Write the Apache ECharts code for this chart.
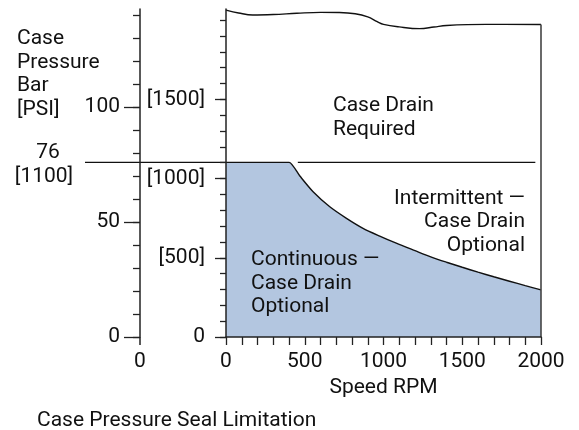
<!DOCTYPE html>
<html><head><meta charset="utf-8">
<script src="https://cdn.jsdelivr.net/npm/echarts@6/dist/echarts.min.js"></script>
<style>html,body{margin:0;padding:0;background:#fff}#c{width:579px;height:430px}</style>
</head><body><div id="c"></div>
<script>
// ---- data ----
const speedRpm = [0,392,401,469,553,659,765,870,976,1081,1200,1300,1400,1500,1600,1700,1800,1900,2000];
const limitPsi = [1102,1102,1102,1016,917,822,749,686,637,592,545,506,472,440,409,380,352,324,297];
const topRpm = [0,80,170,300,450,600,720,820,900,960,1000,1100,1229,1320,1400,1650,2000];
const topPsi = [2063,2045,2032,2035,2043,2049,2048,2040,2020,1990,1973,1957,1946,1956,1966,1973,1972];
const borderRpm = [2000,2000];
const borderPsi = [0,1972];
const intermittentRpm = [456,1964];
const intermittentPsi = [1102,1102];
const barLimit = 76;
const barLineX = [-0.64,1];
const speedMajorTicks = [0,500,1000,1500,2000];
const speedMinorTicks = [0,100,200,300,400,500,600,700,800,900,1000,1100,1200,1300,1400,1500,1600,1700,1800,1900,2000];
const psiMajorTicks = [0,500,1000,1500];
const psiMinorTicks = [0,100,200,300,400,500,600,700,800,900,1000,1100,1200,1300,1400,1500,1600,1700,1800,1900,2000];
const barMajorTicks = [0,50,100];
const barMinorTicks = [0,10,20,30,40,50,60,70,80,90,100,110,120,130,140];
const barZeroTick = [0];
const psiAxisMax = 2070;
const psiPerBar = 14.5038;

const FONT = 'Roboto, "Liberation Sans", sans-serif';
const FS = 21;
const TXT = '#111';
const AX = '#222';
const zip = (a,b) => a.map((v,i)=>[v,b[i]]);

const chart = echarts.init(document.getElementById('c'), null, {renderer:'canvas'});
const textStyle = {fontFamily: FONT, fontSize: FS, color: TXT};
const plain = v => String(v);
const F = FS + 'px ' + FONT;

chart.setOption({
  animation: false,
  textStyle: {fontFamily: FONT},
  title: {
    text: 'Case Pressure Seal Limitation', left: 37, top: 410, padding: 0,
    textStyle: {fontFamily: FONT, fontSize: FS, color: TXT, fontWeight: 'normal'}
  },
  grid: [
    {left: 226, right: 38, top: 9, bottom: 93},
    {left: 85, width: 141, top: 9, bottom: 93}
  ],
  xAxis: [
    {gridIndex: 0, type: 'value', min: 0, max: 2000, z: 5,
     name: 'Speed RPM', nameLocation: 'middle', nameGap: 38,
     nameTextStyle: textStyle,
     axisLine: {show: true, lineStyle: {color: AX, width: 1.5}},
     axisTick: {show: true, customValues: speedMinorTicks, length: 8, lineStyle: {color: AX, width: 1.3}},
     axisLabel: {customValues: speedMajorTicks, margin: 14, formatter: plain, ...textStyle},
     splitLine: {show: false}},
    {gridIndex: 1, type: 'value', min: barLineX[0], max: barLineX[1], z: 5,
     axisLine: {show: false},
     axisTick: {show: true, customValues: barZeroTick, length: 8, lineStyle: {color: AX, width: 1.5}},
     axisLabel: {customValues: barZeroTick, margin: 14, formatter: plain, ...textStyle},
     splitLine: {show: false}}
  ],
  yAxis: [
    {gridIndex: 0, type: 'value', position: 'left', min: 0, max: psiAxisMax, z: 5,
     axisLine: {show: true, onZero: false, lineStyle: {color: AX, width: 1.5}},
     axisTick: {show: true, customValues: psiMajorTicks, length: 11, lineStyle: {color: AX, width: 1.3}},
     axisLabel: {customValues: psiMajorTicks, margin: 21, formatter: v => v === 0 ? '0' : '[' + v + ']', ...textStyle},
     splitLine: {show: false}},
    {gridIndex: 0, type: 'value', position: 'left', min: 0, max: psiAxisMax, z: 5,
     axisLine: {show: false, onZero: false},
     axisTick: {show: true, customValues: psiMinorTicks, length: 6, lineStyle: {color: AX, width: 1.3}},
     axisLabel: {show: false},
     splitLine: {show: false}},
    {gridIndex: 1, type: 'value', position: 'left', offset: -55, min: 0, max: psiAxisMax / psiPerBar, z: 5,
     axisLine: {show: true, onZero: false, lineStyle: {color: AX, width: 1.5}},
     axisTick: {show: true, customValues: barMajorTicks, length: 16, lineStyle: {color: AX, width: 1.3}},
     axisLabel: {customValues: barMajorTicks, margin: 20, formatter: plain, ...textStyle},
     splitLine: {show: false}},
    {gridIndex: 1, type: 'value', position: 'left', offset: -55, min: 0, max: psiAxisMax / psiPerBar, z: 5,
     axisLine: {show: false, onZero: false},
     axisTick: {show: true, customValues: barMinorTicks, length: 7, lineStyle: {color: AX, width: 1.3}},
     axisLabel: {show: false},
     splitLine: {show: false}}
  ],
  graphic: {
    z: 50,
    elements: [
      {type: 'text', z: 50, x: 17, y: 27, style: {text: 'Case\nPressure\nBar\n[PSI]', font: F, fill: TXT, lineHeight: 23.5, verticalAlign: 'top'}},
      {type: 'text', z: 50, x: 48, y: 153, style: {text: '76', font: F, fill: TXT, align: 'center', verticalAlign: 'middle'}},
      {type: 'text', z: 50, x: 44, y: 176.5, style: {text: '[1100]', font: F, fill: TXT, align: 'center', verticalAlign: 'middle'}},
      {type: 'text', z: 50, x: 333, y: 94, style: {text: 'Case Drain\nRequired', font: F, fill: TXT, lineHeight: 23.5, verticalAlign: 'top'}},
      {type: 'text', z: 50, x: 525, y: 187, style: {text: 'Intermittent —\nCase Drain\nOptional', font: F, fill: TXT, lineHeight: 23.3, align: 'right', verticalAlign: 'top'}},
      {type: 'text', z: 50, x: 251, y: 248, style: {text: 'Continuous —\nCase Drain\nOptional', font: F, fill: TXT, lineHeight: 23.5, verticalAlign: 'top'}}
    ]
  },
  series: [
    {type: 'line', xAxisIndex: 0, yAxisIndex: 0, data: zip(speedRpm, limitPsi), symbol: 'none', z: 2,
     lineStyle: {color: '#111', width: 1.4}, areaStyle: {color: '#b3c6e0', opacity: 1}, smooth: 0.25},
    {type: 'line', xAxisIndex: 0, yAxisIndex: 0, data: zip(intermittentRpm, intermittentPsi), symbol: 'none', z: 3,
     lineStyle: {color: '#111', width: 1.4}},
    {type: 'line', xAxisIndex: 0, yAxisIndex: 0, data: zip(topRpm, topPsi), symbol: 'none', z: 3, smooth: 0.4,
     lineStyle: {color: '#111', width: 1.4}},
    {type: 'line', xAxisIndex: 0, yAxisIndex: 0, data: zip(borderRpm, borderPsi), symbol: 'none', z: 3,
     lineStyle: {color: '#444', width: 1.6}},
    {type: 'line', xAxisIndex: 1, yAxisIndex: 2, data: barLineX.map(x => [x, barLimit]), symbol: 'none', z: 3,
     lineStyle: {color: '#111', width: 1.4}}
  ]
});
</script></body></html>
